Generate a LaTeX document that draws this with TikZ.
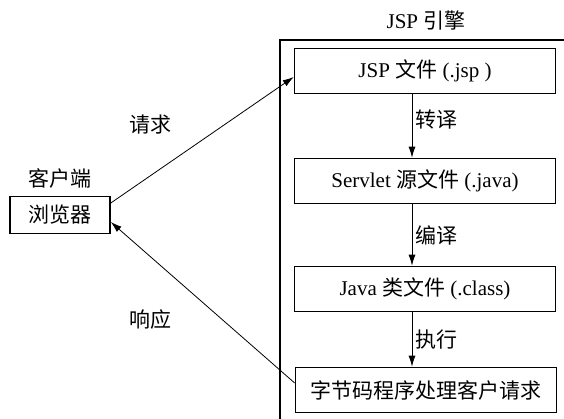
\documentclass[tikz,border=0pt]{standalone}
\usepackage{fontspec}
\setmainfont{Liberation Serif}
\newfontfamily\cjk{Noto Sans CJK SC}
\usetikzlibrary{arrows.meta}

\begin{document}
\begin{tikzpicture}[x=1pt,y=-1pt,
  every node/.style={font=\fontsize{21}{25}\selectfont},
  stage/.style={draw,line width=1.6pt,minimum width=261pt,minimum height=45pt,inner sep=0pt},
  flow/.style={-{Latex[length=11pt,width=7pt]},line width=0.8pt}]
\useasboundingbox (0,0) rectangle (564,419);

% engine frame
\draw (426,20) node (eng) {JSP {\cjk 引擎}};
\draw[line width=1.6pt] (280,419) -- (280,40) -- (564,40);

% client side
\draw (60,215) node (br) [stage,minimum width=100pt,minimum height=37pt,
  label={[label distance=4pt]above:{\cjk 客户端}}] {\cjk 浏览器};

% stages
\draw (425,71)  node (jsp) [stage] {JSP {\cjk 文件} (.jsp )};
\draw (425,181) node (src) [stage] {Servlet {\cjk 源文件} (.java)};
\draw (425,289) node (cls) [stage] {Java {\cjk 类文件} (.class)};
\draw (426,390) node (run) [stage] {\cjk 字节码程序处理客户请求};

\draw[flow] ([xshift=-13pt]jsp.south) -- node[right,pos=0.4] {\cjk 转译} ([xshift=-13pt]src.north);
\draw[flow] ([xshift=-13pt]src.south) -- node[right] {\cjk 编译} ([xshift=-13pt]cls.north);
\draw[flow] ([xshift=-13pt]cls.south) -- node[right] {\cjk 执行} ([xshift=-14pt]run.north);

% request / response
\draw[flow] ([yshift=12pt]br.east) -- ([yshift=-6pt]jsp.west);
\draw (150,125) node (req) {\cjk 请求};
\draw[flow] ([yshift=7pt]run.west) -- ([yshift=-7pt]br.east);
\draw (150,320) node (resp) {\cjk 响应};
\end{tikzpicture}
\end{document}
